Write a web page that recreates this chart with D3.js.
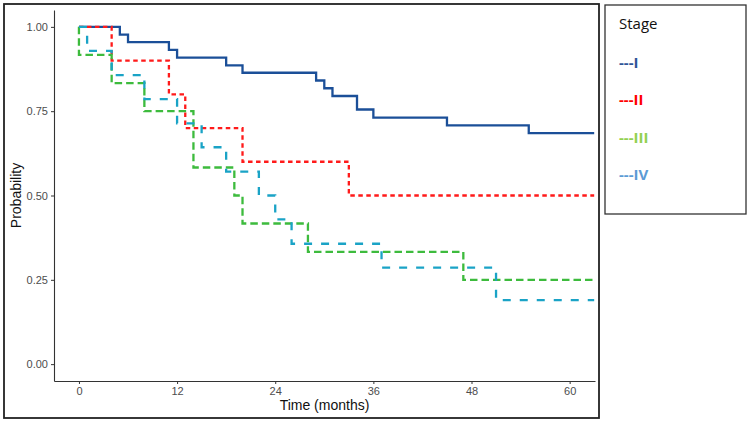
<!DOCTYPE html>
<html>
<head>
<meta charset="utf-8">
<script src="https://cdn.jsdelivr.net/npm/d3@7"></script>
<style>
  body { margin: 0; background: #fff; }
  svg { display: block; }
</style>
</head>
<body>
<svg id="km"></svg>
<script>
// Kaplan-Meier steps per stage (time in months, survival probability)
const timesI  = [0, 5, 6, 11, 12, 18, 20, 29, 30, 31, 34, 36, 45, 55, 63];
const survI   = [1, 0.977, 0.955, 0.932, 0.909, 0.886, 0.864, 0.841, 0.818, 0.795, 0.755, 0.731, 0.708, 0.685, 0.685];
const timesII = [0, 4, 11, 13, 20, 33, 63];
const survII  = [1, 0.9, 0.8, 0.7, 0.6, 0.5, 0.5];
const timesIII = [0, 0, 4, 8, 14, 19, 20, 28, 47, 63];
const survIII  = [1, 0.917, 0.833, 0.75, 0.583, 0.5, 0.417, 0.333, 0.25, 0.25];
const timesIV = [0, 1, 4, 8, 12, 15, 18, 22, 24, 26, 37, 51, 63];
const survIV  = [1, 0.929, 0.857, 0.786, 0.714, 0.643, 0.571, 0.5, 0.429, 0.357, 0.286, 0.19, 0.19];

const stages = ['I', 'II', 'III', 'IV'];
const xTicks = [0, 12, 24, 36, 48, 60];
const yTicks = [0, 0.25, 0.5, 0.75, 1];

const width = 750, height = 421;

const svg = d3.select('#km')
  .attr('width', width)
  .attr('height', height)
  .attr('viewBox', [0, 0, width, height]);

const x = d3.scaleLinear().domain([-3.05, 63.1]).range([54, 595]);
const y = d3.scaleLinear().domain([-0.05, 1.05]).range([381, 10]);

// outer frame around the plot
svg.append('rect')
  .attr('x', 4).attr('y', 4)
  .attr('width', 595).attr('height', 414)
  .attr('fill', 'none')
  .attr('stroke', '#222')
  .attr('stroke-width', 1.8);

// axes
const xAxis = svg.append('g')
  .attr('transform', `translate(0, ${y(-0.05)})`)
  .call(d3.axisBottom(x).tickValues(xTicks).tickSize(3).tickSizeOuter(0).tickPadding(3).tickFormat(d3.format('d')));
const yAxis = svg.append('g')
  .attr('transform', `translate(${x(-3.05)}, 0)`)
  .call(d3.axisLeft(y).tickValues(yTicks).tickSize(3).tickSizeOuter(0).tickPadding(3).tickFormat(d3.format('.2f')));

[xAxis, yAxis].forEach(g => {
  g.select('.domain').attr('stroke', '#333').attr('stroke-width', 1.1);
  g.selectAll('.tick line').attr('stroke', '#333');
  g.selectAll('.tick text')
    .attr('fill', '#4d4d4d')
    .style('font-family', 'Liberation Sans, Arial, sans-serif')
    .style('font-size', '11px');
});

svg.append('text')
  .text('Time (months)')
  .attr('x', (x(-3.05) + x(63.1)) / 2)
  .attr('y', 410)
  .attr('text-anchor', 'middle')
  .style('font-family', 'Liberation Sans, Arial, sans-serif')
  .style('font-size', '14px')
  .attr('fill', '#111');

svg.append('text')
  .text('Probability')
  .attr('transform', `translate(21, ${y(0.5)}) rotate(-90)`)
  .attr('text-anchor', 'middle')
  .style('font-family', 'Liberation Sans, Arial, sans-serif')
  .style('font-size', '14px')
  .attr('fill', '#111');

// curves
const line = d3.line()
  .x(d => x(d[0]))
  .y(d => y(d[1]))
  .curve(d3.curveStepAfter);

const curves = [
  {times: timesI, surv: survI, color: '#1b4f98', dash: null},
  {times: timesII, surv: survII, color: '#ff1a1a', dash: '4.5,3.5'},
  {times: timesIII, surv: survIII, color: '#3dbb3d', dash: '7.5,4'},
  {times: timesIV, surv: survIV, color: '#1aa3c6', dash: '8,9'}
];

curves.forEach(c => {
  svg.append('path')
    .datum(d3.zip(c.times, c.surv))
    .attr('d', line)
    .attr('fill', 'none')
    .attr('stroke', c.color)
    .attr('stroke-width', 2.3)
    .attr('stroke-dasharray', c.dash);
});

// legend box
const legendColors = ['#2f5597', '#ff0000', '#92d050', '#5b9bd5'];
const legend = svg.append('g');
legend.append('rect')
  .attr('x', 605).attr('y', 5)
  .attr('width', 141).attr('height', 209)
  .attr('fill', 'none')
  .attr('stroke', '#333')
  .attr('stroke-width', 1.3);

legend.append('text')
  .text('Stage')
  .attr('x', 619).attr('y', 29)
  .style('font-family', 'Open Sans, Liberation Sans, sans-serif')
  .style('font-size', '15px')
  .attr('fill', '#111');

legend.selectAll('.lab')
  .data(stages)
  .enter().append('text')
  .attr('class', 'lab')
  .text(d => '---' + d)
  .attr('x', 619)
  .attr('y', (d, i) => 68 + i * 37.3)
  .style('font-family', 'Open Sans, Liberation Sans, sans-serif')
  .style('font-size', '15px')
  .style('font-weight', 'bold')
  .attr('fill', (d, i) => legendColors[i]);
</script>
</body>
</html>
